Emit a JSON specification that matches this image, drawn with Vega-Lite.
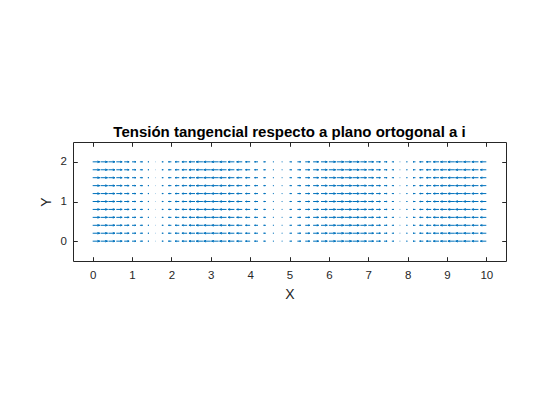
{
"$schema": "https://vega.github.io/schema/vega-lite/v6.json",
"width": 433, "height": 119,
"autosize": "none",
"padding": {"left": 73, "top": 142, "right": 54, "bottom": 159},
"background": "white",
"title": {"text": "Tensión tangencial respecto a plano ortogonal a i", "font": "Liberation Sans", "fontSize": 15, "fontWeight": "bold", "color": "#000000", "baseline": "alphabetic", "offset": 5, "dy": 15},
"config": {
 "view": {"stroke": null},
 "axis": {"grid": false, "domainColor": "#262626", "domainWidth": 1, "tickColor": "#262626", "tickWidth": 1, "tickSize": -4.3, "labelFont": "Liberation Sans", "labelFontSize": 11.5, "labelColor": "#262626", "titleFont": "Liberation Sans", "titleFontSize": 14, "titleFontWeight": "normal", "titleColor": "#262626"}
},
"data": {"values": [
{"x":0,"y":0,"u":0.18},{"x":0,"y":0.2,"u":0.18},{"x":0,"y":0.4,"u":0.18},{"x":0,"y":0.6,"u":0.18},{"x":0,"y":0.8,"u":0.18},{"x":0,"y":1,"u":0.18},{"x":0,"y":1.2,"u":0.18},{"x":0,"y":1.4,"u":0.18},{"x":0,"y":1.6,"u":0.18},{"x":0,"y":1.8,"u":0.18},{"x":0,"y":2,"u":0.18},
{"x":0.2,"y":0,"u":0.1764},{"x":0.2,"y":0.2,"u":0.1764},{"x":0.2,"y":0.4,"u":0.1764},{"x":0.2,"y":0.6,"u":0.1764},{"x":0.2,"y":0.8,"u":0.1764},{"x":0.2,"y":1,"u":0.1764},{"x":0.2,"y":1.2,"u":0.1764},{"x":0.2,"y":1.4,"u":0.1764},{"x":0.2,"y":1.6,"u":0.1764},{"x":0.2,"y":1.8,"u":0.1764},{"x":0.2,"y":2,"u":0.1764},
{"x":0.4,"y":0,"u":0.1658},{"x":0.4,"y":0.2,"u":0.1658},{"x":0.4,"y":0.4,"u":0.1658},{"x":0.4,"y":0.6,"u":0.1658},{"x":0.4,"y":0.8,"u":0.1658},{"x":0.4,"y":1,"u":0.1658},{"x":0.4,"y":1.2,"u":0.1658},{"x":0.4,"y":1.4,"u":0.1658},{"x":0.4,"y":1.6,"u":0.1658},{"x":0.4,"y":1.8,"u":0.1658},{"x":0.4,"y":2,"u":0.1658},
{"x":0.6,"y":0,"u":0.1486},{"x":0.6,"y":0.2,"u":0.1486},{"x":0.6,"y":0.4,"u":0.1486},{"x":0.6,"y":0.6,"u":0.1486},{"x":0.6,"y":0.8,"u":0.1486},{"x":0.6,"y":1,"u":0.1486},{"x":0.6,"y":1.2,"u":0.1486},{"x":0.6,"y":1.4,"u":0.1486},{"x":0.6,"y":1.6,"u":0.1486},{"x":0.6,"y":1.8,"u":0.1486},{"x":0.6,"y":2,"u":0.1486},
{"x":0.8,"y":0,"u":0.1254},{"x":0.8,"y":0.2,"u":0.1254},{"x":0.8,"y":0.4,"u":0.1254},{"x":0.8,"y":0.6,"u":0.1254},{"x":0.8,"y":0.8,"u":0.1254},{"x":0.8,"y":1,"u":0.1254},{"x":0.8,"y":1.2,"u":0.1254},{"x":0.8,"y":1.4,"u":0.1254},{"x":0.8,"y":1.6,"u":0.1254},{"x":0.8,"y":1.8,"u":0.1254},{"x":0.8,"y":2,"u":0.1254},
{"x":1,"y":0,"u":0.0973},{"x":1,"y":0.2,"u":0.0973},{"x":1,"y":0.4,"u":0.0973},{"x":1,"y":0.6,"u":0.0973},{"x":1,"y":0.8,"u":0.0973},{"x":1,"y":1,"u":0.0973},{"x":1,"y":1.2,"u":0.0973},{"x":1,"y":1.4,"u":0.0973},{"x":1,"y":1.6,"u":0.0973},{"x":1,"y":1.8,"u":0.0973},{"x":1,"y":2,"u":0.0973},
{"x":1.2,"y":0,"u":0.0652},{"x":1.2,"y":0.2,"u":0.0652},{"x":1.2,"y":0.4,"u":0.0652},{"x":1.2,"y":0.6,"u":0.0652},{"x":1.2,"y":0.8,"u":0.0652},{"x":1.2,"y":1,"u":0.0652},{"x":1.2,"y":1.2,"u":0.0652},{"x":1.2,"y":1.4,"u":0.0652},{"x":1.2,"y":1.6,"u":0.0652},{"x":1.2,"y":1.8,"u":0.0652},{"x":1.2,"y":2,"u":0.0652},
{"x":1.4,"y":0,"u":0.0306},{"x":1.4,"y":0.2,"u":0.0306},{"x":1.4,"y":0.4,"u":0.0306},{"x":1.4,"y":0.6,"u":0.0306},{"x":1.4,"y":0.8,"u":0.0306},{"x":1.4,"y":1,"u":0.0306},{"x":1.4,"y":1.2,"u":0.0306},{"x":1.4,"y":1.4,"u":0.0306},{"x":1.4,"y":1.6,"u":0.0306},{"x":1.4,"y":1.8,"u":0.0306},{"x":1.4,"y":2,"u":0.0306},
{"x":1.6,"y":0,"u":-0.0053},{"x":1.6,"y":0.2,"u":-0.0053},{"x":1.6,"y":0.4,"u":-0.0053},{"x":1.6,"y":0.6,"u":-0.0053},{"x":1.6,"y":0.8,"u":-0.0053},{"x":1.6,"y":1,"u":-0.0053},{"x":1.6,"y":1.2,"u":-0.0053},{"x":1.6,"y":1.4,"u":-0.0053},{"x":1.6,"y":1.6,"u":-0.0053},{"x":1.6,"y":1.8,"u":-0.0053},{"x":1.6,"y":2,"u":-0.0053},
{"x":1.8,"y":0,"u":-0.0409},{"x":1.8,"y":0.2,"u":-0.0409},{"x":1.8,"y":0.4,"u":-0.0409},{"x":1.8,"y":0.6,"u":-0.0409},{"x":1.8,"y":0.8,"u":-0.0409},{"x":1.8,"y":1,"u":-0.0409},{"x":1.8,"y":1.2,"u":-0.0409},{"x":1.8,"y":1.4,"u":-0.0409},{"x":1.8,"y":1.6,"u":-0.0409},{"x":1.8,"y":1.8,"u":-0.0409},{"x":1.8,"y":2,"u":-0.0409},
{"x":2,"y":0,"u":-0.0749},{"x":2,"y":0.2,"u":-0.0749},{"x":2,"y":0.4,"u":-0.0749},{"x":2,"y":0.6,"u":-0.0749},{"x":2,"y":0.8,"u":-0.0749},{"x":2,"y":1,"u":-0.0749},{"x":2,"y":1.2,"u":-0.0749},{"x":2,"y":1.4,"u":-0.0749},{"x":2,"y":1.6,"u":-0.0749},{"x":2,"y":1.8,"u":-0.0749},{"x":2,"y":2,"u":-0.0749},
{"x":2.2,"y":0,"u":-0.1059},{"x":2.2,"y":0.2,"u":-0.1059},{"x":2.2,"y":0.4,"u":-0.1059},{"x":2.2,"y":0.6,"u":-0.1059},{"x":2.2,"y":0.8,"u":-0.1059},{"x":2.2,"y":1,"u":-0.1059},{"x":2.2,"y":1.2,"u":-0.1059},{"x":2.2,"y":1.4,"u":-0.1059},{"x":2.2,"y":1.6,"u":-0.1059},{"x":2.2,"y":1.8,"u":-0.1059},{"x":2.2,"y":2,"u":-0.1059},
{"x":2.4,"y":0,"u":-0.1327},{"x":2.4,"y":0.2,"u":-0.1327},{"x":2.4,"y":0.4,"u":-0.1327},{"x":2.4,"y":0.6,"u":-0.1327},{"x":2.4,"y":0.8,"u":-0.1327},{"x":2.4,"y":1,"u":-0.1327},{"x":2.4,"y":1.2,"u":-0.1327},{"x":2.4,"y":1.4,"u":-0.1327},{"x":2.4,"y":1.6,"u":-0.1327},{"x":2.4,"y":1.8,"u":-0.1327},{"x":2.4,"y":2,"u":-0.1327},
{"x":2.6,"y":0,"u":-0.1542},{"x":2.6,"y":0.2,"u":-0.1542},{"x":2.6,"y":0.4,"u":-0.1542},{"x":2.6,"y":0.6,"u":-0.1542},{"x":2.6,"y":0.8,"u":-0.1542},{"x":2.6,"y":1,"u":-0.1542},{"x":2.6,"y":1.2,"u":-0.1542},{"x":2.6,"y":1.4,"u":-0.1542},{"x":2.6,"y":1.6,"u":-0.1542},{"x":2.6,"y":1.8,"u":-0.1542},{"x":2.6,"y":2,"u":-0.1542},
{"x":2.8,"y":0,"u":-0.1696},{"x":2.8,"y":0.2,"u":-0.1696},{"x":2.8,"y":0.4,"u":-0.1696},{"x":2.8,"y":0.6,"u":-0.1696},{"x":2.8,"y":0.8,"u":-0.1696},{"x":2.8,"y":1,"u":-0.1696},{"x":2.8,"y":1.2,"u":-0.1696},{"x":2.8,"y":1.4,"u":-0.1696},{"x":2.8,"y":1.6,"u":-0.1696},{"x":2.8,"y":1.8,"u":-0.1696},{"x":2.8,"y":2,"u":-0.1696},
{"x":3,"y":0,"u":-0.1782},{"x":3,"y":0.2,"u":-0.1782},{"x":3,"y":0.4,"u":-0.1782},{"x":3,"y":0.6,"u":-0.1782},{"x":3,"y":0.8,"u":-0.1782},{"x":3,"y":1,"u":-0.1782},{"x":3,"y":1.2,"u":-0.1782},{"x":3,"y":1.4,"u":-0.1782},{"x":3,"y":1.6,"u":-0.1782},{"x":3,"y":1.8,"u":-0.1782},{"x":3,"y":2,"u":-0.1782},
{"x":3.2,"y":0,"u":-0.1797},{"x":3.2,"y":0.2,"u":-0.1797},{"x":3.2,"y":0.4,"u":-0.1797},{"x":3.2,"y":0.6,"u":-0.1797},{"x":3.2,"y":0.8,"u":-0.1797},{"x":3.2,"y":1,"u":-0.1797},{"x":3.2,"y":1.2,"u":-0.1797},{"x":3.2,"y":1.4,"u":-0.1797},{"x":3.2,"y":1.6,"u":-0.1797},{"x":3.2,"y":1.8,"u":-0.1797},{"x":3.2,"y":2,"u":-0.1797},
{"x":3.4,"y":0,"u":-0.174},{"x":3.4,"y":0.2,"u":-0.174},{"x":3.4,"y":0.4,"u":-0.174},{"x":3.4,"y":0.6,"u":-0.174},{"x":3.4,"y":0.8,"u":-0.174},{"x":3.4,"y":1,"u":-0.174},{"x":3.4,"y":1.2,"u":-0.174},{"x":3.4,"y":1.4,"u":-0.174},{"x":3.4,"y":1.6,"u":-0.174},{"x":3.4,"y":1.8,"u":-0.174},{"x":3.4,"y":2,"u":-0.174},
{"x":3.6,"y":0,"u":-0.1614},{"x":3.6,"y":0.2,"u":-0.1614},{"x":3.6,"y":0.4,"u":-0.1614},{"x":3.6,"y":0.6,"u":-0.1614},{"x":3.6,"y":0.8,"u":-0.1614},{"x":3.6,"y":1,"u":-0.1614},{"x":3.6,"y":1.2,"u":-0.1614},{"x":3.6,"y":1.4,"u":-0.1614},{"x":3.6,"y":1.6,"u":-0.1614},{"x":3.6,"y":1.8,"u":-0.1614},{"x":3.6,"y":2,"u":-0.1614},
{"x":3.8,"y":0,"u":-0.1424},{"x":3.8,"y":0.2,"u":-0.1424},{"x":3.8,"y":0.4,"u":-0.1424},{"x":3.8,"y":0.6,"u":-0.1424},{"x":3.8,"y":0.8,"u":-0.1424},{"x":3.8,"y":1,"u":-0.1424},{"x":3.8,"y":1.2,"u":-0.1424},{"x":3.8,"y":1.4,"u":-0.1424},{"x":3.8,"y":1.6,"u":-0.1424},{"x":3.8,"y":1.8,"u":-0.1424},{"x":3.8,"y":2,"u":-0.1424},
{"x":4,"y":0,"u":-0.1177},{"x":4,"y":0.2,"u":-0.1177},{"x":4,"y":0.4,"u":-0.1177},{"x":4,"y":0.6,"u":-0.1177},{"x":4,"y":0.8,"u":-0.1177},{"x":4,"y":1,"u":-0.1177},{"x":4,"y":1.2,"u":-0.1177},{"x":4,"y":1.4,"u":-0.1177},{"x":4,"y":1.6,"u":-0.1177},{"x":4,"y":1.8,"u":-0.1177},{"x":4,"y":2,"u":-0.1177},
{"x":4.2,"y":0,"u":-0.0882},{"x":4.2,"y":0.2,"u":-0.0882},{"x":4.2,"y":0.4,"u":-0.0882},{"x":4.2,"y":0.6,"u":-0.0882},{"x":4.2,"y":0.8,"u":-0.0882},{"x":4.2,"y":1,"u":-0.0882},{"x":4.2,"y":1.2,"u":-0.0882},{"x":4.2,"y":1.4,"u":-0.0882},{"x":4.2,"y":1.6,"u":-0.0882},{"x":4.2,"y":1.8,"u":-0.0882},{"x":4.2,"y":2,"u":-0.0882},
{"x":4.4,"y":0,"u":-0.0553},{"x":4.4,"y":0.2,"u":-0.0553},{"x":4.4,"y":0.4,"u":-0.0553},{"x":4.4,"y":0.6,"u":-0.0553},{"x":4.4,"y":0.8,"u":-0.0553},{"x":4.4,"y":1,"u":-0.0553},{"x":4.4,"y":1.2,"u":-0.0553},{"x":4.4,"y":1.4,"u":-0.0553},{"x":4.4,"y":1.6,"u":-0.0553},{"x":4.4,"y":1.8,"u":-0.0553},{"x":4.4,"y":2,"u":-0.0553},
{"x":4.6,"y":0,"u":-0.0202},{"x":4.6,"y":0.2,"u":-0.0202},{"x":4.6,"y":0.4,"u":-0.0202},{"x":4.6,"y":0.6,"u":-0.0202},{"x":4.6,"y":0.8,"u":-0.0202},{"x":4.6,"y":1,"u":-0.0202},{"x":4.6,"y":1.2,"u":-0.0202},{"x":4.6,"y":1.4,"u":-0.0202},{"x":4.6,"y":1.6,"u":-0.0202},{"x":4.6,"y":1.8,"u":-0.0202},{"x":4.6,"y":2,"u":-0.0202},
{"x":4.8,"y":0,"u":0.0158},{"x":4.8,"y":0.2,"u":0.0158},{"x":4.8,"y":0.4,"u":0.0158},{"x":4.8,"y":0.6,"u":0.0158},{"x":4.8,"y":0.8,"u":0.0158},{"x":4.8,"y":1,"u":0.0158},{"x":4.8,"y":1.2,"u":0.0158},{"x":4.8,"y":1.4,"u":0.0158},{"x":4.8,"y":1.6,"u":0.0158},{"x":4.8,"y":1.8,"u":0.0158},{"x":4.8,"y":2,"u":0.0158},
{"x":5,"y":0,"u":0.0511},{"x":5,"y":0.2,"u":0.0511},{"x":5,"y":0.4,"u":0.0511},{"x":5,"y":0.6,"u":0.0511},{"x":5,"y":0.8,"u":0.0511},{"x":5,"y":1,"u":0.0511},{"x":5,"y":1.2,"u":0.0511},{"x":5,"y":1.4,"u":0.0511},{"x":5,"y":1.6,"u":0.0511},{"x":5,"y":1.8,"u":0.0511},{"x":5,"y":2,"u":0.0511},
{"x":5.2,"y":0,"u":0.0843},{"x":5.2,"y":0.2,"u":0.0843},{"x":5.2,"y":0.4,"u":0.0843},{"x":5.2,"y":0.6,"u":0.0843},{"x":5.2,"y":0.8,"u":0.0843},{"x":5.2,"y":1,"u":0.0843},{"x":5.2,"y":1.2,"u":0.0843},{"x":5.2,"y":1.4,"u":0.0843},{"x":5.2,"y":1.6,"u":0.0843},{"x":5.2,"y":1.8,"u":0.0843},{"x":5.2,"y":2,"u":0.0843},
{"x":5.4,"y":0,"u":0.1142},{"x":5.4,"y":0.2,"u":0.1142},{"x":5.4,"y":0.4,"u":0.1142},{"x":5.4,"y":0.6,"u":0.1142},{"x":5.4,"y":0.8,"u":0.1142},{"x":5.4,"y":1,"u":0.1142},{"x":5.4,"y":1.2,"u":0.1142},{"x":5.4,"y":1.4,"u":0.1142},{"x":5.4,"y":1.6,"u":0.1142},{"x":5.4,"y":1.8,"u":0.1142},{"x":5.4,"y":2,"u":0.1142},
{"x":5.6,"y":0,"u":0.1396},{"x":5.6,"y":0.2,"u":0.1396},{"x":5.6,"y":0.4,"u":0.1396},{"x":5.6,"y":0.6,"u":0.1396},{"x":5.6,"y":0.8,"u":0.1396},{"x":5.6,"y":1,"u":0.1396},{"x":5.6,"y":1.2,"u":0.1396},{"x":5.6,"y":1.4,"u":0.1396},{"x":5.6,"y":1.6,"u":0.1396},{"x":5.6,"y":1.8,"u":0.1396},{"x":5.6,"y":2,"u":0.1396},
{"x":5.8,"y":0,"u":0.1594},{"x":5.8,"y":0.2,"u":0.1594},{"x":5.8,"y":0.4,"u":0.1594},{"x":5.8,"y":0.6,"u":0.1594},{"x":5.8,"y":0.8,"u":0.1594},{"x":5.8,"y":1,"u":0.1594},{"x":5.8,"y":1.2,"u":0.1594},{"x":5.8,"y":1.4,"u":0.1594},{"x":5.8,"y":1.6,"u":0.1594},{"x":5.8,"y":1.8,"u":0.1594},{"x":5.8,"y":2,"u":0.1594},
{"x":6,"y":0,"u":0.1728},{"x":6,"y":0.2,"u":0.1728},{"x":6,"y":0.4,"u":0.1728},{"x":6,"y":0.6,"u":0.1728},{"x":6,"y":0.8,"u":0.1728},{"x":6,"y":1,"u":0.1728},{"x":6,"y":1.2,"u":0.1728},{"x":6,"y":1.4,"u":0.1728},{"x":6,"y":1.6,"u":0.1728},{"x":6,"y":1.8,"u":0.1728},{"x":6,"y":2,"u":0.1728},
{"x":6.2,"y":0,"u":0.1794},{"x":6.2,"y":0.2,"u":0.1794},{"x":6.2,"y":0.4,"u":0.1794},{"x":6.2,"y":0.6,"u":0.1794},{"x":6.2,"y":0.8,"u":0.1794},{"x":6.2,"y":1,"u":0.1794},{"x":6.2,"y":1.2,"u":0.1794},{"x":6.2,"y":1.4,"u":0.1794},{"x":6.2,"y":1.6,"u":0.1794},{"x":6.2,"y":1.8,"u":0.1794},{"x":6.2,"y":2,"u":0.1794},
{"x":6.4,"y":0,"u":0.1789},{"x":6.4,"y":0.2,"u":0.1789},{"x":6.4,"y":0.4,"u":0.1789},{"x":6.4,"y":0.6,"u":0.1789},{"x":6.4,"y":0.8,"u":0.1789},{"x":6.4,"y":1,"u":0.1789},{"x":6.4,"y":1.2,"u":0.1789},{"x":6.4,"y":1.4,"u":0.1789},{"x":6.4,"y":1.6,"u":0.1789},{"x":6.4,"y":1.8,"u":0.1789},{"x":6.4,"y":2,"u":0.1789},
{"x":6.6,"y":0,"u":0.1713},{"x":6.6,"y":0.2,"u":0.1713},{"x":6.6,"y":0.4,"u":0.1713},{"x":6.6,"y":0.6,"u":0.1713},{"x":6.6,"y":0.8,"u":0.1713},{"x":6.6,"y":1,"u":0.1713},{"x":6.6,"y":1.2,"u":0.1713},{"x":6.6,"y":1.4,"u":0.1713},{"x":6.6,"y":1.6,"u":0.1713},{"x":6.6,"y":1.8,"u":0.1713},{"x":6.6,"y":2,"u":0.1713},
{"x":6.8,"y":0,"u":0.1569},{"x":6.8,"y":0.2,"u":0.1569},{"x":6.8,"y":0.4,"u":0.1569},{"x":6.8,"y":0.6,"u":0.1569},{"x":6.8,"y":0.8,"u":0.1569},{"x":6.8,"y":1,"u":0.1569},{"x":6.8,"y":1.2,"u":0.1569},{"x":6.8,"y":1.4,"u":0.1569},{"x":6.8,"y":1.6,"u":0.1569},{"x":6.8,"y":1.8,"u":0.1569},{"x":6.8,"y":2,"u":0.1569},
{"x":7,"y":0,"u":0.1357},{"x":7,"y":0.2,"u":0.1357},{"x":7,"y":0.4,"u":0.1357},{"x":7,"y":0.6,"u":0.1357},{"x":7,"y":0.8,"u":0.1357},{"x":7,"y":1,"u":0.1357},{"x":7,"y":1.2,"u":0.1357},{"x":7,"y":1.4,"u":0.1357},{"x":7,"y":1.6,"u":0.1357},{"x":7,"y":1.8,"u":0.1357},{"x":7,"y":2,"u":0.1357},
{"x":7.2,"y":0,"u":0.1095},{"x":7.2,"y":0.2,"u":0.1095},{"x":7.2,"y":0.4,"u":0.1095},{"x":7.2,"y":0.6,"u":0.1095},{"x":7.2,"y":0.8,"u":0.1095},{"x":7.2,"y":1,"u":0.1095},{"x":7.2,"y":1.2,"u":0.1095},{"x":7.2,"y":1.4,"u":0.1095},{"x":7.2,"y":1.6,"u":0.1095},{"x":7.2,"y":1.8,"u":0.1095},{"x":7.2,"y":2,"u":0.1095},
{"x":7.4,"y":0,"u":0.0789},{"x":7.4,"y":0.2,"u":0.0789},{"x":7.4,"y":0.4,"u":0.0789},{"x":7.4,"y":0.6,"u":0.0789},{"x":7.4,"y":0.8,"u":0.0789},{"x":7.4,"y":1,"u":0.0789},{"x":7.4,"y":1.2,"u":0.0789},{"x":7.4,"y":1.4,"u":0.0789},{"x":7.4,"y":1.6,"u":0.0789},{"x":7.4,"y":1.8,"u":0.0789},{"x":7.4,"y":2,"u":0.0789},
{"x":7.6,"y":0,"u":0.0455},{"x":7.6,"y":0.2,"u":0.0455},{"x":7.6,"y":0.4,"u":0.0455},{"x":7.6,"y":0.6,"u":0.0455},{"x":7.6,"y":0.8,"u":0.0455},{"x":7.6,"y":1,"u":0.0455},{"x":7.6,"y":1.2,"u":0.0455},{"x":7.6,"y":1.4,"u":0.0455},{"x":7.6,"y":1.6,"u":0.0455},{"x":7.6,"y":1.8,"u":0.0455},{"x":7.6,"y":2,"u":0.0455},
{"x":7.8,"y":0,"u":0.0097},{"x":7.8,"y":0.2,"u":0.0097},{"x":7.8,"y":0.4,"u":0.0097},{"x":7.8,"y":0.6,"u":0.0097},{"x":7.8,"y":0.8,"u":0.0097},{"x":7.8,"y":1,"u":0.0097},{"x":7.8,"y":1.2,"u":0.0097},{"x":7.8,"y":1.4,"u":0.0097},{"x":7.8,"y":1.6,"u":0.0097},{"x":7.8,"y":1.8,"u":0.0097},{"x":7.8,"y":2,"u":0.0097},
{"x":8,"y":0,"u":-0.0262},{"x":8,"y":0.2,"u":-0.0262},{"x":8,"y":0.4,"u":-0.0262},{"x":8,"y":0.6,"u":-0.0262},{"x":8,"y":0.8,"u":-0.0262},{"x":8,"y":1,"u":-0.0262},{"x":8,"y":1.2,"u":-0.0262},{"x":8,"y":1.4,"u":-0.0262},{"x":8,"y":1.6,"u":-0.0262},{"x":8,"y":1.8,"u":-0.0262},{"x":8,"y":2,"u":-0.0262},
{"x":8.2,"y":0,"u":-0.061},{"x":8.2,"y":0.2,"u":-0.061},{"x":8.2,"y":0.4,"u":-0.061},{"x":8.2,"y":0.6,"u":-0.061},{"x":8.2,"y":0.8,"u":-0.061},{"x":8.2,"y":1,"u":-0.061},{"x":8.2,"y":1.2,"u":-0.061},{"x":8.2,"y":1.4,"u":-0.061},{"x":8.2,"y":1.6,"u":-0.061},{"x":8.2,"y":1.8,"u":-0.061},{"x":8.2,"y":2,"u":-0.061},
{"x":8.4,"y":0,"u":-0.0935},{"x":8.4,"y":0.2,"u":-0.0935},{"x":8.4,"y":0.4,"u":-0.0935},{"x":8.4,"y":0.6,"u":-0.0935},{"x":8.4,"y":0.8,"u":-0.0935},{"x":8.4,"y":1,"u":-0.0935},{"x":8.4,"y":1.2,"u":-0.0935},{"x":8.4,"y":1.4,"u":-0.0935},{"x":8.4,"y":1.6,"u":-0.0935},{"x":8.4,"y":1.8,"u":-0.0935},{"x":8.4,"y":2,"u":-0.0935},
{"x":8.6,"y":0,"u":-0.1222},{"x":8.6,"y":0.2,"u":-0.1222},{"x":8.6,"y":0.4,"u":-0.1222},{"x":8.6,"y":0.6,"u":-0.1222},{"x":8.6,"y":0.8,"u":-0.1222},{"x":8.6,"y":1,"u":-0.1222},{"x":8.6,"y":1.2,"u":-0.1222},{"x":8.6,"y":1.4,"u":-0.1222},{"x":8.6,"y":1.6,"u":-0.1222},{"x":8.6,"y":1.8,"u":-0.1222},{"x":8.6,"y":2,"u":-0.1222},
{"x":8.8,"y":0,"u":-0.146},{"x":8.8,"y":0.2,"u":-0.146},{"x":8.8,"y":0.4,"u":-0.146},{"x":8.8,"y":0.6,"u":-0.146},{"x":8.8,"y":0.8,"u":-0.146},{"x":8.8,"y":1,"u":-0.146},{"x":8.8,"y":1.2,"u":-0.146},{"x":8.8,"y":1.4,"u":-0.146},{"x":8.8,"y":1.6,"u":-0.146},{"x":8.8,"y":1.8,"u":-0.146},{"x":8.8,"y":2,"u":-0.146},
{"x":9,"y":0,"u":-0.164},{"x":9,"y":0.2,"u":-0.164},{"x":9,"y":0.4,"u":-0.164},{"x":9,"y":0.6,"u":-0.164},{"x":9,"y":0.8,"u":-0.164},{"x":9,"y":1,"u":-0.164},{"x":9,"y":1.2,"u":-0.164},{"x":9,"y":1.4,"u":-0.164},{"x":9,"y":1.6,"u":-0.164},{"x":9,"y":1.8,"u":-0.164},{"x":9,"y":2,"u":-0.164},
{"x":9.2,"y":0,"u":-0.1755},{"x":9.2,"y":0.2,"u":-0.1755},{"x":9.2,"y":0.4,"u":-0.1755},{"x":9.2,"y":0.6,"u":-0.1755},{"x":9.2,"y":0.8,"u":-0.1755},{"x":9.2,"y":1,"u":-0.1755},{"x":9.2,"y":1.2,"u":-0.1755},{"x":9.2,"y":1.4,"u":-0.1755},{"x":9.2,"y":1.6,"u":-0.1755},{"x":9.2,"y":1.8,"u":-0.1755},{"x":9.2,"y":2,"u":-0.1755},
{"x":9.4,"y":0,"u":-0.18},{"x":9.4,"y":0.2,"u":-0.18},{"x":9.4,"y":0.4,"u":-0.18},{"x":9.4,"y":0.6,"u":-0.18},{"x":9.4,"y":0.8,"u":-0.18},{"x":9.4,"y":1,"u":-0.18},{"x":9.4,"y":1.2,"u":-0.18},{"x":9.4,"y":1.4,"u":-0.18},{"x":9.4,"y":1.6,"u":-0.18},{"x":9.4,"y":1.8,"u":-0.18},{"x":9.4,"y":2,"u":-0.18},
{"x":9.6,"y":0,"u":-0.1773},{"x":9.6,"y":0.2,"u":-0.1773},{"x":9.6,"y":0.4,"u":-0.1773},{"x":9.6,"y":0.6,"u":-0.1773},{"x":9.6,"y":0.8,"u":-0.1773},{"x":9.6,"y":1,"u":-0.1773},{"x":9.6,"y":1.2,"u":-0.1773},{"x":9.6,"y":1.4,"u":-0.1773},{"x":9.6,"y":1.6,"u":-0.1773},{"x":9.6,"y":1.8,"u":-0.1773},{"x":9.6,"y":2,"u":-0.1773},
{"x":9.8,"y":0,"u":-0.168},{"x":9.8,"y":0.2,"u":-0.168},{"x":9.8,"y":0.4,"u":-0.168},{"x":9.8,"y":0.6,"u":-0.168},{"x":9.8,"y":0.8,"u":-0.168},{"x":9.8,"y":1,"u":-0.168},{"x":9.8,"y":1.2,"u":-0.168},{"x":9.8,"y":1.4,"u":-0.168},{"x":9.8,"y":1.6,"u":-0.168},{"x":9.8,"y":1.8,"u":-0.168},{"x":9.8,"y":2,"u":-0.168},
{"x":10,"y":0,"u":-0.151},{"x":10,"y":0.2,"u":-0.151},{"x":10,"y":0.4,"u":-0.151},{"x":10,"y":0.6,"u":-0.151},{"x":10,"y":0.8,"u":-0.151},{"x":10,"y":1,"u":-0.151},{"x":10,"y":1.2,"u":-0.151},{"x":10,"y":1.4,"u":-0.151},{"x":10,"y":1.6,"u":-0.151},{"x":10,"y":1.8,"u":-0.151},{"x":10,"y":2,"u":-0.151}
]},
"layer": [
 {
  "transform": [{"filter": "datum.u > 0"}],
  "mark": {"type": "point", "shape": "M0,0L2,0M2,0L1.34,-0.22M2,0L1.34,0.22", "filled": false, "stroke": "#0072BD", "strokeWidth": 1, "opacity": 1},
  "encoding": {
   "x": {"field": "x", "type": "quantitative", "scale": {"domain": [-0.5, 10.5], "nice": false, "zero": false}, "axis": {"orient": "bottom", "title": "X", "values": [0,1,2,3,4,5,6,7,8,9,10], "labelPadding": 13, "titlePadding": 6}},
   "y": {"field": "y", "type": "quantitative", "scale": {"domain": [-0.5, 2.5], "nice": false, "zero": false}, "axis": {"orient": "left", "title": "Y", "values": [0,1,2], "labelPadding": 11, "titlePadding": 6}},
   "size": {"field": "u", "type": "quantitative", "scale": {"type": "pow", "exponent": 2, "domain": [0, 0.18], "range": [0, 50.2]}, "legend": null}
  }
 },
 {
  "transform": [{"filter": "datum.u < 0"}],
  "mark": {"type": "point", "shape": "M0,0L-2,0M-2,0L-1.34,-0.22M-2,0L-1.34,0.22", "filled": false, "stroke": "#0072BD", "strokeWidth": 1, "opacity": 1},
  "encoding": {
   "x": {"field": "x", "type": "quantitative", "scale": {"domain": [-0.5, 10.5], "nice": false, "zero": false}, "axis": {"orient": "top", "title": null, "labels": false, "values": [0,1,2,3,4,5,6,7,8,9,10]}},
   "y": {"field": "y", "type": "quantitative", "scale": {"domain": [-0.5, 2.5], "nice": false, "zero": false}, "axis": {"orient": "right", "title": null, "labels": false, "values": [0,1,2]}},
   "size": {"field": "u", "type": "quantitative", "scale": {"type": "pow", "exponent": 2, "domain": [-0.18, 0], "range": [50.2, 0]}, "legend": null}
  }
 }
],
"resolve": {"scale": {"size": "independent"}, "axis": {"x": "independent", "y": "independent"}}
}
